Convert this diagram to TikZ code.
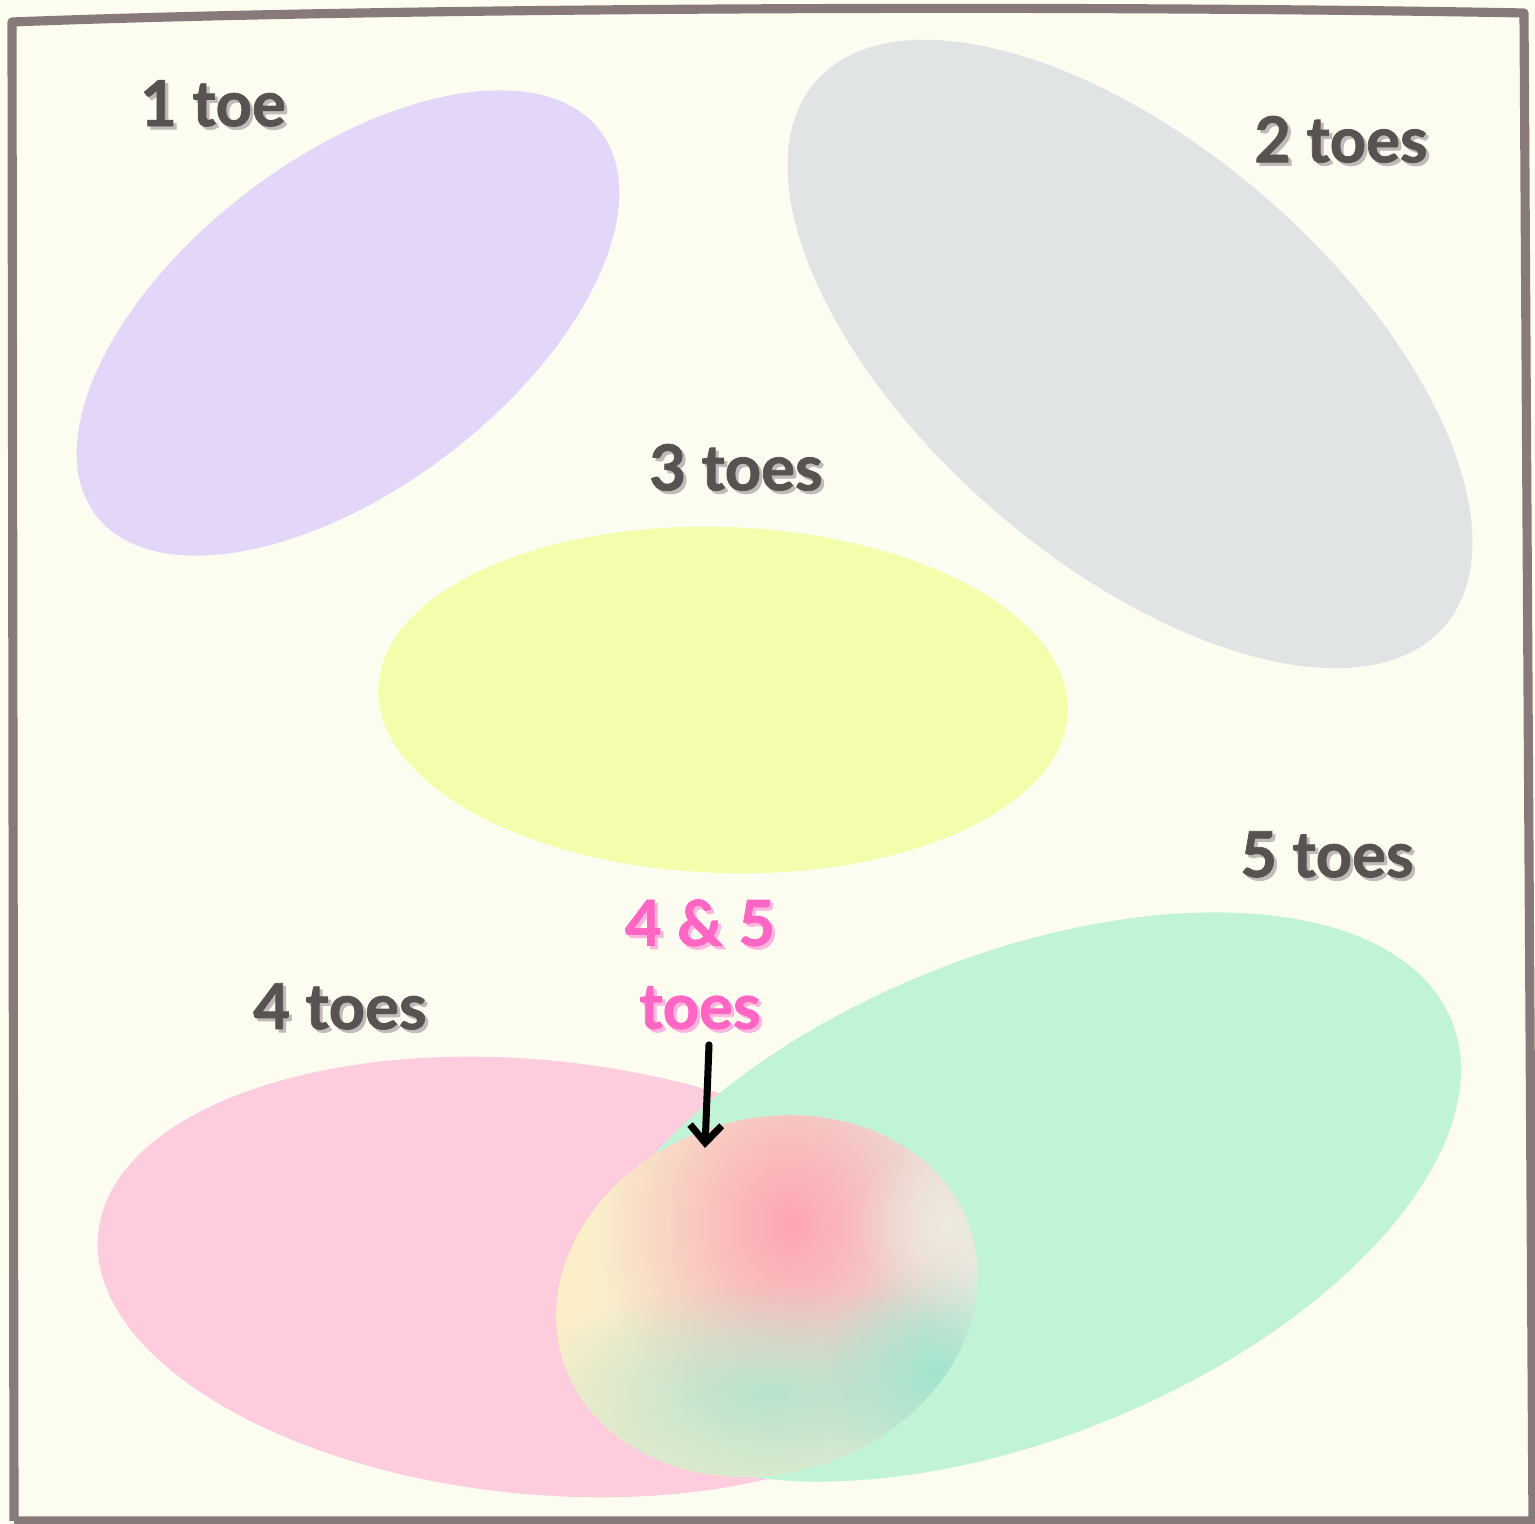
\documentclass[tikz,border=0pt]{standalone}
\usepackage{fontspec}
\setmainfont{Lato}[BoldFeatures={FakeBold=1.2}]
\usepackage{tikz}
\usetikzlibrary{arrows.meta,fadings}
\definecolor{paper}{RGB}{252,253,240}
\definecolor{frame}{RGB}{136,122,122}
\definecolor{ink}{RGB}{88,82,80}
\definecolor{inkshade}{RGB}{192,187,184}
\definecolor{hot}{RGB}{255,102,196}
\definecolor{hotshade}{RGB}{255,182,222}
\definecolor{lilac}{RGB}{227,214,248}
\definecolor{mist}{RGB}{224,228,228}
\definecolor{lemon}{RGB}{244,253,171}
\definecolor{rose}{RGB}{253,204,221}
\definecolor{mint}{RGB}{193,244,215}
\definecolor{blobcream}{RGB}{253,238,200}
\definecolor{blobpeach}{RGB}{255,190,188}
\definecolor{blobpale}{RGB}{226,234,222}
\definecolor{blobpink}{RGB}{255,165,178}
\definecolor{blobgreen}{RGB}{184,228,204}
\definecolor{blobteal}{RGB}{162,228,205}
\definecolor{blobwhite}{RGB}{238,234,224}
\definecolor{blobbase}{RGB}{226,236,206}
\newcommand\shadowed[2]{\rlap{\kern0.9pt\raisebox{-0.9pt}{\color{#2}#1}}#1}
\tikzfading[name=soft spot, inner color=transparent!0, outer color=transparent!100]
\tikzset{
  toe set/.style={fill=#1, draw=none},
  toe label/.style={font=\fontsize{18}{23.6}\selectfont\bfseries, text=ink},
  overlap label/.style={toe label, text=hot, align=center},
}
\begin{document}
\begin{tikzpicture}[x=0.01cm,y=0.01cm]
  \useasboundingbox (0,0) rectangle (1535,1524);
  \fill[paper] (0,0) rectangle (1535,1524);
  % sets
  \fill[toe set=lilac] (348,1201) ellipse [x radius=317, y radius=165, rotate=37.3];
  \fill[toe set=mist] (1130,1170) ellipse [x radius=416, y radius=207, rotate=-40.9];
  \fill[toe set=lemon] (723,824) ellipse [x radius=345, y radius=173, rotate=-2];
  \fill[toe set=rose] (535,247) ellipse [x radius=439, y radius=217, rotate=-5.7];
  \fill[toe set=mint] (1017,327) ellipse [x radius=469, y radius=241, rotate=22.1];
  % overlap blob
  \begin{scope}
    \clip (767,228) ellipse [x radius=214, y radius=177, rotate=17.7];
    \shade[left color=blobcream, middle color=blobpeach, right color=blobpale] (553,40) rectangle (981,415);
    \fill[blobpink, path fading=soft spot] (790,300) ellipse [x radius=190, y radius=230];
    \fill[blobbase, path fading=soft spot] (740,40) ellipse [x radius=260, y radius=90];
    \fill[blobgreen, path fading=soft spot] (770,130) ellipse [x radius=260, y radius=110];
    \fill[blobteal, path fading=soft spot] (935,150) circle (115);
    \fill[blobwhite, path fading=soft spot] (945,300) circle (90);
  \end{scope}
  % labels
  \node[toe label] (one) at (213,1419) {\shadowed{1 toe}{inkshade}};
  \node[toe label] (two) at (1341,1383) {\shadowed{2 toes}{inkshade}};
  \node[toe label] (three) at (736,1055) {\shadowed{3 toes}{inkshade}};
  \node[toe label] (five) at (1327,668) {\shadowed{5 toes}{inkshade}};
  \node[toe label] (four) at (340,516) {\shadowed{4 toes}{inkshade}};
  \node[overlap label] (both) at (700,558) {\shadowed{4 \& 5}{hotshade}\\\shadowed{toes}{hotshade}};
  \coordinate (tip) at (705,376);
  \draw[line width=2pt, line cap=round, -{Straight Barb[length=5pt, width=9pt]}] ([xshift=0.09cm]both.south) -- (tip);
  % frame
  \draw[frame, line width=2.6pt, line join=round]
    (14,3) -- (12,1502) .. controls (400,1517) and (1100,1519) .. (1524,1511) -- (1533,-2) (1534,3) -- (14,3);
\end{tikzpicture}
\end{document}
